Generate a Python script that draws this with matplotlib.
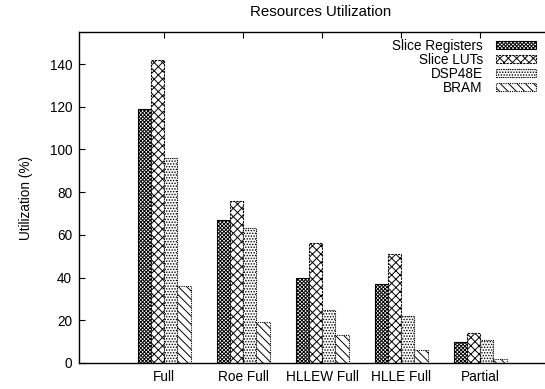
import matplotlib
matplotlib.use("Agg")
import matplotlib.pyplot as plt
import numpy as np

categories = ["Full", "Roe Full", "HLLEW Full", "HLLE Full", "Partial"]
series_names = ["Slice Registers", "Slice LUTs", "DSP48E", "BRAM"]
slice_registers = [119, 67, 40, 37, 10]
slice_luts = [142, 76, 56, 51, 14]
dsp48e = [96, 63, 25, 22, 11]
bram = [36, 19, 13, 6, 2]
yticks = [0, 20, 40, 60, 80, 100, 120, 140]

plt.rcParams['font.family'] = ['Liberation Sans', 'DejaVu Sans']
plt.rcParams['hatch.linewidth'] = 0.7

fig = plt.figure(figsize=(5.45, 3.89), dpi=100)
ax = fig.add_axes([79/545, 26/389, 1 - 79/545, (363-32)/389])

series = [slice_registers, slice_luts, dsp48e, bram]
hatches = ['xxxxxxxxx', 'xxxx', '......', '\\\\\\\\']
lstyles = ['-', (0, (2, 1)), (0, (1, 1)), (0, (1, 1))]
w = 1/6
x = np.arange(len(categories))
handles = []
for i, (vals, name) in enumerate(zip(series, series_names)):
    b = ax.bar(x + (i - 1.5)*w, vals, width=w, facecolor='white', edgecolor='black',
               hatch=hatches[i], linewidth=0.8, linestyle=lstyles[i], label=name)
    handles.append(b)

fs = 9.8
ax.set_xlim(-1.08, 4.82)
ax.set_ylim(0, 155)
ax.set_yticks(yticks)
ax.set_xticks(x)
ax.set_xticklabels(categories)
ax.tick_params(axis='both', direction='in', labelsize=fs, length=4, width=0.8)
ax.tick_params(axis='x', top=True, pad=5)
ax.tick_params(axis='y', pad=5)
ax.spines['right'].set_visible(False)
for s in ['left', 'top', 'bottom']:
    ax.spines[s].set_linewidth(1.0)
ax.set_ylabel("Utilization (%)", fontsize=fs, labelpad=12)
fig.text(321/545, 1 - 12/389, "Resources Utilization", fontsize=10.8,
         ha='center', va='center')

leg = ax.legend(handles=handles, loc='upper right', bbox_to_anchor=(0.995, 1.0),
                frameon=False, fontsize=fs, markerfirst=False, handlelength=2.9,
                handleheight=0.45, labelspacing=0.0, handletextpad=1.0, borderaxespad=0.1)
for t in leg.get_texts():
    t.set_ha('right')
leg._legend_box.align = "right"

fig.savefig("out.png", dpi=100)
